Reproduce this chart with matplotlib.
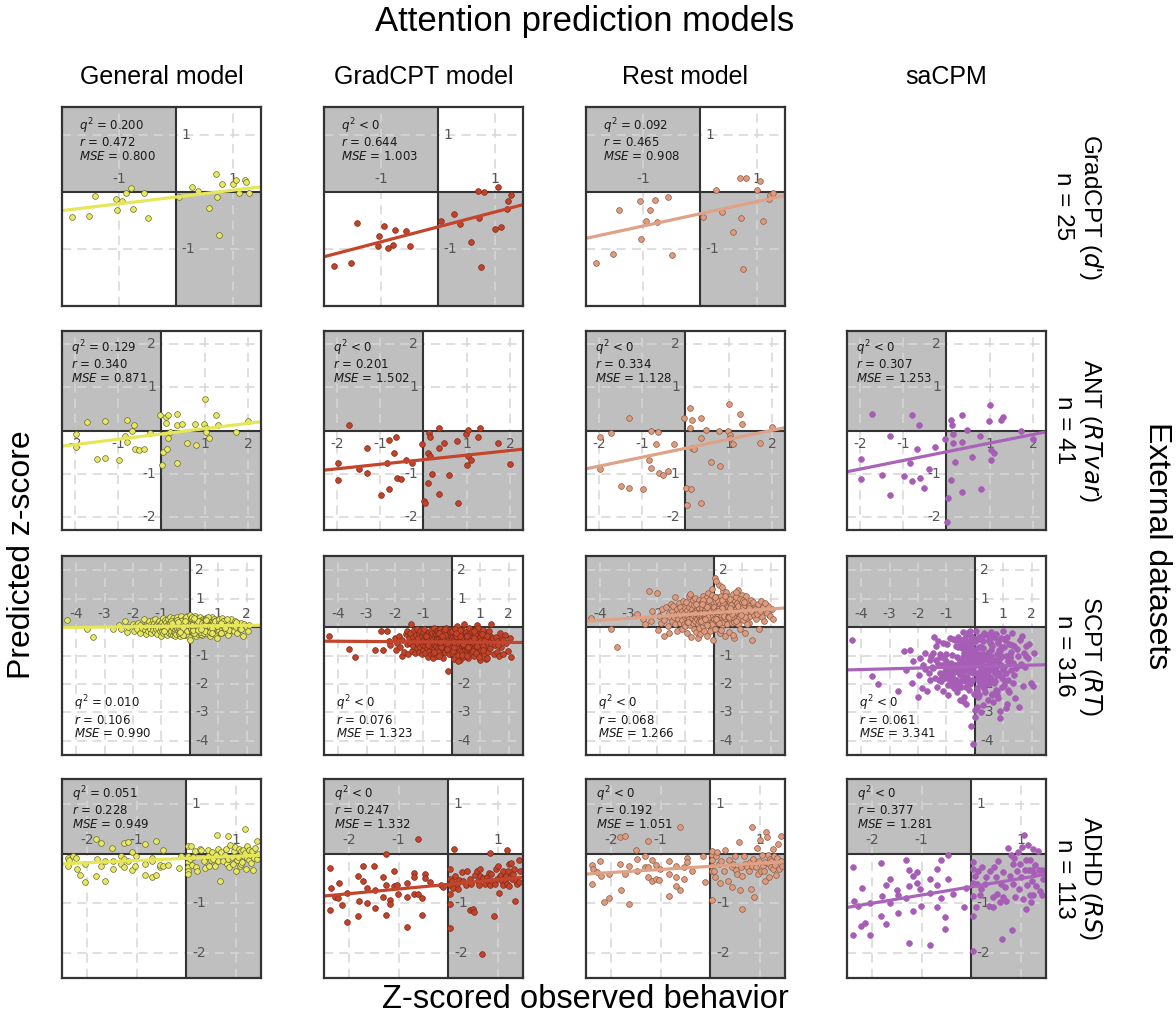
import numpy as np
import matplotlib.pyplot as plt

plt.rcParams['font.family'] = ['DejaVu Sans']

MODELS = ['General model', 'GradCPT model', 'Rest model', 'saCPM']
ROW_LABELS = ["GradCPT ($d$')\nn = 25", 'ANT ($RTvar$)\nn = 41',
              'SCPT ($RT$)\nn = 316', 'ADHD ($RS$)\nn = 113']
LIMITS = [(-2.0, 1.5), (-2.3, 2.3), (-4.5, 2.5), (-2.5, 1.5)]

# ---- GradCPT (d'), n = 25: observed z-score, then predicted z-score per model
GRADCPT_X = [-1.83, -1.52, -1.42, -1.05, -1.03, -0.95, -0.88, -0.78, -0.75, -0.55,
             -0.49, 0.05, 0.29, 0.40, 0.58, 0.71, 0.72, 0.76, 0.82, 1.01,
             1.06, 1.11, 1.22, 1.24, 1.29]
GRADCPT_GEN = [-0.44, -0.41, -0.06, -0.11, -0.31, -0.15, -0.01, 0.08, -0.29, -0.01,
               -0.46, -0.09, 0.09, 0.02, -0.28, 0.32, -0.09, -0.75, 0.14, 0.14,
               0.22, -0.02, 0.21, 0.18, -0.01]
GRADCPT_GRAD = [-1.29, -1.24, -0.54, -0.95, -0.77, -0.59, -0.98, -0.93, -0.67, -0.68,
                -0.94, -0.50, -0.38, -0.56, -0.87, 0.03, -0.46, -1.32, 0.01, -0.64,
                0.10, -0.61, -0.29, -0.15, -0.04]
GRADCPT_REST = [-1.25, -1.08, -0.32, -0.15, -0.83, -0.50, -0.32, -0.14, -0.52, -0.09,
                -1.11, -0.43, 0.04, -0.35, -0.69, 0.26, -0.46, -1.35, 0.25, 0.04,
                0.20, -0.51, -0.11, -0.05, -0.02]

# ---- ANT (RTvar), n = 41
ANT_X = [-1.98, -1.97, -1.72, -1.50, -1.31, -1.31, -0.99, -0.84, -0.80, -0.79,
         -0.69, -0.63, -0.61, -0.53, -0.40, -0.27, -0.03, 0.02, 0.03, 0.11,
         0.11, 0.12, 0.15, 0.16, 0.20, 0.36, 0.37, 0.37, 0.47, 0.60,
         0.77, 0.79, 0.99, 1.01, 1.02, 1.04, 1.10, 1.25, 1.31, 1.73, 2.00]
ANT_GEN = [-0.07, -0.39, 0.20, -0.66, 0.23, -0.63, -0.69, -0.13, -0.26, 0.25,
           -0.02, 0.12, -0.42, -0.46, -0.42, -0.05, 0.35, -0.80, -0.49, 0.18,
           0.32, -0.43, 0.35, -0.17, -0.03, 0.39, 0.12, -0.74, 0.16, -0.30,
           0.15, -0.34, 0.16, 0.72, 0.05, -0.03, -0.17, 0.35, 0.12, -0.04, 0.22]
ANT_GRAD = [-0.75, -1.15, 0.12, -0.90, -0.99, -0.40, -1.48, -0.75, -1.35, -0.22,
            -0.51, -0.15, -1.09, -1.12, -0.68, -0.76, -0.31, -1.63, -1.68, -0.52,
            -1.22, -0.05, -0.14, -0.60, -1.00, -1.47, 0.06, -0.40, -0.30, -1.02,
            -0.24, -1.68, -0.09, -0.80, 0.02, -0.58, -0.68, -0.15, 0.06, -0.30, -0.78]
ANT_REST = [-0.15, -0.89, -0.05, -1.29, 0.29, -1.34, -1.35, -0.68, -0.86, 0.00,
            -0.32, -0.04, -0.98, -1.04, -0.93, -0.32, 0.28, -1.32, -1.72, 0.05,
            0.51, -1.35, 0.25, -0.40, -0.43, 0.28, -0.18, -1.68, 0.02, -0.72,
            -0.02, -0.83, -0.02, 0.61, -0.10, -0.18, -0.32, 0.38, 0.16, -0.28, 0.07]
ANT_SA = [-0.67, -1.13, 0.37, -1.02, -0.12, -1.48, -1.05, -0.75, -1.17, 0.35,
          -0.42, 0.12, -1.09, -1.32, -0.90, -0.39, -0.19, -2.12, -1.55, -1.14,
          0.25, 0.13, -0.09, -0.29, -0.73, -1.42, 0.36, -0.27, 0.02, -0.62,
          -0.12, -1.35, 0.23, 0.60, -0.46, -0.69, -0.52, 0.25, 0.32, 0.00, -0.19]

# ---- SCPT (RT), n = 316 (dense cloud, values estimated)
SCPT_X = [-4.33, -3.62, -3.41, -2.69, -2.49, -2.44, -2.27, -2.22, -2.19, -2.01,
          -1.98, -1.93, -1.87, -1.81, -1.76, -1.74, -1.69, -1.63, -1.58, -1.57,
          -1.53, -1.51, -1.49, -1.46, -1.44, -1.41, -1.37, -1.36, -1.33, -1.31,
          -1.29, -1.27, -1.24, -1.22, -1.21, -1.19, -1.16, -1.14, -1.12, -1.11,
          -1.08, -1.06, -1.05, -1.03, -1.02, -1.00, -0.99, -0.97, -0.96, -0.95,
          -0.93, -0.92, -0.89, -0.88, -0.87, -0.85, -0.84, -0.82, -0.81, -0.79,
          -0.78, -0.77, -0.75, -0.74, -0.72, -0.71, -0.70, -0.69, -0.67, -0.66,
          -0.65, -0.64, -0.62, -0.61, -0.60, -0.59, -0.58, -0.57, -0.56, -0.55,
          -0.54, -0.53, -0.53, -0.52, -0.51, -0.51, -0.50, -0.83, -0.68, -0.91,
          -0.49, -0.48, -0.48, -0.46, -0.45, -0.43, -0.43, -0.41, -0.40, -0.38,
          -0.37, -0.37, -0.35, -0.34, -0.33, -0.31, -0.30, -0.30, -0.28, -0.27,
          -0.26, -0.25, -0.24, -0.22, -0.22, -0.21, -0.19, -0.18, -0.17, -0.16,
          -0.15, -0.14, -0.12, -0.12, -0.11, -0.09, -0.08, -0.07, -0.06, -0.05,
          -0.04, -0.03, -0.02, -0.01, -0.44, -0.36, -0.29, -0.20, -0.13, -0.06,
          -0.47, -0.39, -0.32, -0.25, -0.15, -0.10, -0.03, -0.42, -0.23, -0.08,
          0.01, 0.02, 0.03, 0.04, 0.05, 0.06, 0.08, 0.09, 0.10, 0.11,
          0.12, 0.13, 0.14, 0.15, 0.17, 0.18, 0.19, 0.20, 0.21, 0.22,
          0.23, 0.24, 0.26, 0.27, 0.28, 0.29, 0.30, 0.31, 0.33, 0.34,
          0.35, 0.36, 0.37, 0.38, 0.40, 0.41, 0.42, 0.43, 0.44, 0.46,
          0.47, 0.48, 0.49, 0.02, 0.07, 0.13, 0.16, 0.22, 0.25, 0.32,
          0.39, 0.45, 0.05, 0.11, 0.19, 0.28, 0.35, 0.42, 0.08, 0.30,
          0.50, 0.51, 0.53, 0.54, 0.55, 0.57, 0.58, 0.60, 0.61, 0.62,
          0.64, 0.65, 0.66, 0.68, 0.69, 0.71, 0.72, 0.73, 0.75, 0.76,
          0.78, 0.79, 0.80, 0.82, 0.83, 0.85, 0.86, 0.88, 0.89, 0.91,
          0.92, 0.94, 0.95, 0.97, 0.98, 0.52, 0.59, 0.67, 0.74, 0.81,
          0.87, 0.93, 0.56, 0.70, 0.84, 0.63, 0.77, 0.90, 0.99, 0.53,
          1.01, 1.03, 1.04, 1.06, 1.08, 1.10, 1.12, 1.13, 1.15, 1.17,
          1.19, 1.21, 1.23, 1.26, 1.28, 1.30, 1.33, 1.35, 1.38, 1.41,
          1.44, 1.47, 1.05, 1.11, 1.18, 1.24, 1.31, 1.39, 1.09, 1.22,
          1.52, 1.55, 1.58, 1.61, 1.65, 1.69, 1.72, 1.76, 1.81, 1.86,
          1.91, 1.97, 2.03, 2.08, 1.63, 1.79,
          -0.35, -0.18, 0.06, 0.27, 0.58, 0.79, -0.62, 0.15, 0.40, 0.96]
SCPT_GEN = [0.24, -0.08, -0.34, -0.08, 0.06, -0.05, 0.21, -0.18, 0.02, 0.10,
            -0.12, 0.04, -0.06, 0.15, -0.20, 0.08, -0.02, 0.27, -0.10, 0.05,
            -0.25, 0.12, 0.08, -0.15, 0.20, -0.05, 0.12, -0.22, 0.03, 0.25,
            -0.10, 0.15, -0.18, 0.05, 0.30, -0.08, 0.10, -0.25, 0.18, -0.02,
            0.22, -0.12, 0.07, -0.30, 0.14, -0.04, 0.19, -0.14, 0.33, 0.01,
            -0.21, 0.11, -0.06, 0.26, -0.16, 0.04, 0.17, -0.28, 0.09, -0.03,
            0.28, -0.11, 0.13, -0.19, 0.02, 0.35, -0.07, 0.16, -0.24, 0.06,
            -0.13, 0.21, 0.00, -0.29, 0.12, -0.04, 0.31, -0.17, 0.08, 0.18,
            -0.09, 0.25, -0.22, 0.03, 0.14, -0.31, 0.10, -0.02, 0.23, -0.15,
            0.05, -0.26, 0.19, -0.08, 0.34, -0.12, 0.07, 0.22, -0.20, 0.01,
            0.16, -0.05, -0.33, 0.27, 0.09, -0.18, 0.13, 0.38, -0.09, 0.04,
            -0.23, 0.20, 0.06, -0.14, 0.29, -0.01, 0.11, -0.27, 0.17, 0.03,
            0.32, -0.10, 0.08, -0.21, 0.15, 0.40, -0.06, 0.12, -0.16, 0.24,
            -0.03, 0.19, -0.36, 0.07, 0.26, -0.11, 0.02, 0.14, -0.24, 0.30,
            0.10, -0.19, 0.23, -0.04, 0.36, -0.13, 0.05, 0.18, -0.28, 0.09,
            -0.45, 0.21, -0.07, 0.13, 0.28, -0.15, 0.06, 0.33, -0.09, 0.17,
            -0.22, 0.04, 0.25, -0.12, 0.11, 0.38, -0.05, 0.19, -0.30, 0.08,
            0.27, -0.16, 0.14, 0.02, -0.25, 0.31, 0.09, -0.08, 0.22, -0.01,
            0.16, -0.20, 0.35, 0.05, -0.11, 0.24, 0.12, -0.27, 0.07, 0.29,
            -0.04, 0.18, -0.14, 0.41, 0.03, -0.19, 0.26, 0.10, -0.07, 0.20,
            -0.23, 0.13, 0.32, -0.10, 0.06, 0.23, -0.16, 0.15, 0.37, -0.02,
            0.11, -0.21, 0.27, 0.04, -0.12, 0.19, 0.33, -0.06, 0.14, -0.26,
            0.22, 0.08, -0.15, 0.30, -0.03, 0.17, -0.31, 0.12, 0.25, -0.09,
            0.05, 0.35, -0.18, 0.14, -0.05, 0.28, 0.09, -0.23, 0.20, 0.02,
            -0.11, 0.16, -0.39, 0.26, 0.07, -0.14, 0.31, 0.04, -0.20, 0.18,
            0.10, -0.07, 0.24, -0.16, 0.13, 0.36, -0.02, 0.21, -0.12, 0.06,
            0.19, -0.10, 0.28, 0.03, -0.22, 0.15, -0.05, 0.32, 0.08, -0.17,
            0.23, 0.01, -0.13, 0.26, 0.11, -0.06, 0.18, -0.27, 0.14, 0.05,
            0.30, -0.09, 0.12, -0.19, 0.21, 0.04, 0.27, -0.11, 0.16, -0.03,
            0.09, -0.14, 0.20, 0.02, -0.21, 0.15, 0.06, -0.08, 0.13, -0.30,
            0.11, 0.04, -0.12, 0.07, 0.18, -0.05,
            -0.16, 0.22, 0.09, -0.10, 0.26, -0.19, 0.14, 0.31, -0.07, 0.03]
SCPT_GRAD = [-0.33, -0.78, -1.06, -0.81, -0.12, -0.81, -0.12, -0.49, -0.62, -0.38,
             -0.81, -0.55, -0.30, -0.70, -1.02, -0.45, -0.88, -0.25, -0.14, -0.60,
             -0.95, -0.40, -0.20, -0.55, 0.12, -0.85, -0.35, -0.68, -0.10, -0.92,
             -0.48, -0.28, -0.75, -0.05, -0.60, -0.40, -0.88, -0.22, -0.70, -0.15,
             -0.52, -0.95, -0.33, -0.62, -0.18, -0.80, -0.44, -0.07, -0.66, -0.31,
             -0.90, -0.52, -0.24, -0.73, -0.39, -1.05, -0.58, -0.16, -0.47, -0.83,
             -0.29, -0.65, -0.09, -0.51, -0.96, -0.36, -0.71, -0.20, -0.56, -1.10,
             -0.42, -0.03, -0.77, -0.34, -0.61, -0.19, -0.87, -0.46, -0.26, -0.68,
             -1.00, -0.37, -0.54, -0.13, -0.79, -0.43, -0.23, -0.64, -0.91, -0.32,
             -0.50, -0.11, -0.74, -0.40, -0.85, -0.27, -0.59, -0.06, -0.45, -0.97,
             -0.35, -0.69, -0.18, -0.53, -1.08, -0.41, -0.25, -0.76, -0.48, -0.14,
             -0.63, -0.30, -0.89, -0.44, -0.02, -0.57, -0.36, -0.82, -0.21, -0.67,
             -0.47, -1.53, -0.31, -0.72, -0.10, -0.55, -0.93, -0.38, -0.60, -0.17,
             -0.79, -0.42, -0.26, -0.65, -1.02, -0.49, -0.12, -0.58, -0.34, -0.86,
             -0.22, -0.70, -0.45, -0.08, -0.61, -0.95, -0.37, -0.53, -0.28, -0.75,
             -0.40, -0.90, -0.15, -0.62, -0.33, -1.12, -0.48, -0.05, -0.72, -0.29,
             -0.56, -0.19, -0.83, -0.44, -0.66, 0.05, -0.38, -0.97, -0.51, -0.24,
             -0.74, -0.35, -0.58, -1.15, -0.12, -0.47, -0.81, -0.30, -0.63, -0.09,
             -0.42, -0.88, -0.21, -0.55, -1.05, -0.36, -0.68, 0.10, -0.49, -0.77,
             -0.27, -0.60, -0.93, -0.14, -0.45, -0.71, -0.32, -1.20, -0.52, -0.18,
             -0.64, -0.39, -0.85, -0.07, -0.57, -0.26, -0.99, -0.43, -0.70, -0.31,
             -0.50, -0.16, -0.78, -0.37, -1.10, -0.59, -0.23, -0.67, -0.04, -0.46,
             -0.82, -0.33, -0.61, -0.20, -0.92, -0.48, -0.13, -0.73, -0.40, -1.03,
             -0.28, -0.56, -0.87, -0.11, -0.44, -0.69, -0.35, 0.08, -0.62, -0.95,
             -0.41, -0.76, -0.19, -0.53, -1.17, -0.30, -0.65, -0.47, -0.84, -0.25,
             -0.58, -0.02, -0.72, -0.38, -0.90, -0.49, -0.15, -0.66, -0.34, -1.00,
             -0.45, -0.80, -0.22, -0.60, -0.10, -0.52, -0.94, -0.36, -0.70, -0.27,
             -1.12, -0.43, -0.63, -0.17, -0.86, -0.50, -0.32, -0.75, 0.12, -0.57,
             -0.39, -0.96, -0.24, -0.68, -0.46, -1.07, -0.13, -0.55, -0.81, -0.30,
             -0.62, -0.35, -0.88, -0.48, -1.02, -0.20, -0.71, -0.43, -0.93, -0.28,
             -0.55, -0.83, -0.37, -1.05, -0.64, -0.46,
             -0.33, -0.77, -0.51, -0.09, -0.69, -0.40, -0.87, -0.21, -0.58, -1.04]
SCPT_REST = [0.33, -0.05, -0.69, 0.45, 0.30, 0.10, 1.27, 0.20, 0.55, 1.21,
             -0.10, 0.40, 0.15, 0.62, -0.30, 0.25, 0.70, 0.05, 0.48, -0.20,
             0.35, 0.80, 0.55, 0.20, 0.75, 0.35, 1.05, 0.10, 0.45, 0.62,
             -0.15, 0.30, 0.85, 0.48, 0.15, 0.70, 0.40, -0.05, 0.58, 0.25,
             0.92, 0.12, 0.50, 0.35, 0.68, 0.05, 0.42, 0.88, 0.18, 0.60,
             -0.22, 0.38, 0.72, 0.27, 1.10, 0.52, 0.08, 0.45, 0.83, -0.35,
             0.32, 0.65, 0.14, 0.97, 0.50, -0.08, 0.40, 0.77, 0.23, 0.58,
             1.02, 0.36, -0.18, 0.62, 0.29, 0.85, 0.46, 0.11, 0.70, -0.40,
             0.53, 0.21, 0.95, 0.38, -0.02, 0.66, 0.30, 1.15, 0.48, 0.17,
             0.80, 0.43, -0.26, 0.58, 0.25, 0.90, 0.35, 0.68, 0.04, 0.52,
             0.28, 1.08, 0.47, -0.12, 0.73, 0.39, 0.60, 0.15, 0.95, 0.33,
             0.55, -0.30, 0.82, 0.44, 0.20, 1.20, 0.63, 0.09, 0.50, 0.37,
             0.74, 0.26, 0.58, -0.08, 0.92, 0.45, 0.31, 1.35, 0.18, 0.66,
             0.40, 0.87, -0.44, 0.54, 0.22, 0.78, 1.02, 0.34, 0.60, 0.12,
             0.49, 0.95, 0.27, 0.70, -0.15, 0.56, 0.38, 0.83, 0.06, 1.12,
             0.62, 0.30, 1.74, 0.45, -0.05, 0.88, 0.52, 0.20, 1.05, 0.36,
             0.71, 0.14, 0.58, 0.93, 0.40, 1.47, 0.25, 0.66, -0.22, 0.81,
             0.47, 1.10, 0.33, 0.62, 0.08, 0.76, 0.51, 1.28, 0.19, 0.57,
             0.90, 0.35, 0.68, -0.30, 0.44, 1.15, 0.60, 0.27, 0.82, 0.12,
             0.53, 0.98, 0.38, 0.72, 1.62, 0.21, 0.64, 0.46, -0.10, 0.86,
             0.31, 0.75, 1.06, 0.49, 0.16, 0.68, 0.40, 1.25, 0.57, 0.94,
             0.36, 0.70, -0.18, 0.52, 0.88, 0.28, 1.00, 0.45, 0.63, 0.15,
             0.79, 0.41, 1.18, 0.58, -0.40, 0.74, 0.33, 0.92, 0.50, 0.22,
             0.65, 1.05, 0.38, 0.80, 0.12, 0.56, 1.30, 0.44, 0.71, -0.05,
             0.48, 0.90, 0.27, 0.62, 1.12, 0.35, 0.77, -0.28, 0.53, 0.85,
             0.40, 1.00, 0.60, 0.18, 0.73, 0.46, 1.22, 0.31, 0.88, 0.55,
             0.69, 0.26, 0.94, 0.50, -0.20, 0.78, 0.42, 1.08, 0.60, 0.33,
             0.85, 0.52, 0.15, 0.70, 0.38, 0.96, 0.58, -0.45, 0.80, 0.44,
             0.62, 0.30, 0.90, 0.48, 0.10, 0.74, 0.55, 0.88, 0.36, 0.66,
             0.45, 0.80, -0.05, 0.60, 0.92, 0.35, 0.70, 0.20, 0.58, 0.48,
             0.75, 0.40, 0.62, 0.28, 0.55, 0.85,
             0.50, 0.95, 0.30, 1.40, 0.68, 0.22, 0.83, 0.58, 1.10, 0.42]
SCPT_SA = [-0.47, -1.71, -2.01, -2.26, -0.85, -1.50, -0.81, -1.95, -1.20, -2.45,
           -1.70, -1.10, -2.15, -1.35, -1.48, -0.92, -2.26, -1.60, -1.15, -1.85,
           -1.00, -1.40, -0.90, -1.45, -0.35, -1.80, -0.65, -1.15, -2.10, -0.48,
           -1.30, -1.85, -1.62, -0.95, -1.05, -1.90, -1.72, -1.35, -0.55, -2.25,
           -1.10, -1.80, -1.55, -1.40, -1.20, -0.95, -1.68, -0.60, -2.02, -2.40,
           -1.60, -1.38, -1.88, -1.75, -0.40, -1.25, -2.02, -1.74, -1.48, -0.98,
           -1.60, -0.42, -2.12, -2.15, -1.53, -1.33, -0.45, -1.85, -1.86, -0.66,
           -1.42, -2.30, -1.92, -0.36, -1.58, -2.15, -0.70, -1.95, -1.28, -1.50,
           -2.55, -1.60, -0.62, -1.70, -1.22, -0.48, -1.88, -1.95, -1.45, -1.60,
           -1.18, -0.45, -2.10, -1.35, -0.75, -1.62, -0.18, -1.05, -2.45, -0.90,
           -1.52, -0.60, -1.25, -1.90, -0.38, -1.10, -2.70, -0.85, -1.40, -0.22,
           -1.75, -1.00, -0.55, -2.20, -1.30, -0.68, -1.58, -0.12, -1.15, -2.00,
           -0.88, -1.45, -3.47, -0.72, -1.20, -1.85, -0.40, -4.10, -1.05, -1.60,
           -0.95, -2.35, -1.30, -0.50, -1.72, -1.10, -0.25, -1.92, -0.80, -1.42,
           -1.65, -0.65, -2.10, -1.25, -0.30, -1.50, -0.92, -2.60, -1.08, -0.55,
           -1.35, -2.90, -0.78, -1.60, -0.15, -1.18, -2.25, -0.98, -1.80, -0.42,
           -1.05, -1.70, -1.60, -2.40, -1.28, -0.35, -1.95, -1.85, -1.48, -3.00,
           -0.70, -1.22, -2.05, -0.48, -1.55, -0.95, -2.75, -1.12, -0.20, -1.82,
           -1.40, -1.62, -2.30, -1.00, -1.82, -1.68, -0.28, -1.95, -1.15, -2.55,
           -0.90, -1.50, -0.45, -3.15, -1.25, -0.70, -1.88, -1.05, -0.32, -2.15,
           -1.60, -1.58, -1.20, -2.45, -0.95, -1.75, -1.40, -1.38, -2.80, -0.75,
           -1.10, -2.00, -0.52, -1.45, -0.18, -1.85, -1.02, -2.35, -0.68, -1.30,
           -2.65, -1.85, -1.55, -0.35, -1.95, -1.15, -1.62, -2.20, -1.40, -0.25,
           -1.70, -0.95, -2.50, -1.20, -0.48, -1.62, -0.80, -2.95, -1.08, -0.40,
           -1.35, -2.10, -1.72, -1.80, -0.15, -1.25, -2.40, -1.90, -1.55, -0.55,
           -3.18, -1.02, -0.60, -1.90, -1.30, -0.30, -2.25, -0.85, -1.48, -1.75,
           -0.70, -1.40, -2.05, -0.45, -1.60, -1.00, -2.70, -0.35, -1.20, -1.85,
           -0.58, -2.30, -1.10, -0.88, -1.52, -0.20, -1.95, -1.28, -0.65, -2.50,
           -1.45, -0.78, -1.90, -0.40, -2.20, -1.05, -0.62, -1.70, -2.85, -0.95,
           -1.00, -2.82, -0.45, -1.35, -0.30, -2.06, -0.90, -1.40, -0.65, -1.10,
           -0.60, -1.95, -2.06, -0.90, -1.30, -1.00,
           -1.25, -0.48, -2.15, -1.60, -0.82, -2.40, -1.05, -0.35, -1.88, -0.70]

# ---- ADHD (RS), n = 113
ADHD_X = [-2.38, -2.37, -2.36, -2.28, -2.21, -2.20, -2.13, -2.04, -2.04, -1.81,
          -1.81, -1.79, -1.72, -1.72, -1.64, -1.64, -1.49, -1.47, -1.47, -1.32,
          -1.32, -1.26, -1.25, -1.25, -1.17, -1.17, -1.10, -1.10, -1.03, -1.01,
          -0.84, -0.84, -0.83, -0.69, -0.69, -0.69, -0.61, -0.61, -0.53, -0.52,
          -0.46, -0.46, -0.37, -0.14, -0.10,
          0.03, 0.03, 0.03, 0.03, 0.03, 0.03, 0.08, 0.10, 0.12, 0.14,
          0.17, 0.20, 0.22, 0.28, 0.30, 0.35, 0.37, 0.43, 0.44, 0.46,
          0.49, 0.52, 0.53, 0.57, 0.59, 0.61, 0.64, 0.64, 0.68, 0.70,
          0.74, 0.77, 0.80, 0.81, 0.84, 0.84, 0.86, 0.88, 0.91, 0.93,
          0.96, 0.98, 1.00, 1.01, 1.03, 1.05, 1.07, 1.09, 1.09, 1.12,
          1.14, 1.15, 1.18, 1.18, 1.20, 1.22, 1.22, 1.25, 1.25, 1.27,
          1.29, 1.31, 1.34, 1.36, 1.38, 1.42, 1.43, 1.45]
ADHD_GEN = [-0.08, -0.24, -0.12, -0.05, -0.09, -0.30, -0.42, -0.56, -0.20, -0.45,
            0.29, -0.10, 0.22, -0.24, -0.54, -0.15, 0.11, -0.14, -0.30, -0.05,
            -0.20, 0.22, -0.27, -0.10, -0.15, 0.24, 0.03, -0.32, -0.24, -0.05,
            -0.42, -0.20, 0.20, -0.08, -0.14, -0.47, 0.26, -0.43, -0.27, -0.22,
            0.07, -0.25, -0.22, -0.28, -0.05,
            -0.17, -0.27, -0.34, 0.16, -0.05, -0.40, -0.10, 0.16, -0.22, -0.07,
            0.05, -0.27, -0.34, 0.10, 0.07, -0.14, -0.29, 0.07, -0.05, -0.24,
            -0.12, 0.03, -0.10, -0.24, -0.02, 0.37, -0.14, 0.10, -0.54, 0.03,
            -0.15, -0.03, 0.10, -0.20, 0.36, -0.10, -0.27, 0.17, -0.07, -0.20,
            0.05, 0.14, -0.34, -0.12, -0.07, 0.10, -0.25, 0.05, -0.20, -0.17,
            0.08, -0.05, 0.49, 0.01, -0.30, -0.08, 0.15, 0.07, -0.12, -0.02,
            -0.18, 0.05, -0.32, -0.08, 0.12, 0.25, -0.10, 0.00]
ADHD_GRAD = [-0.29, -1.14, -0.70, -0.88, -0.89, -0.60, -1.03, -1.37, -0.80, -0.44,
             -1.26, -0.95, -0.25, -0.55, -0.99, -0.70, -0.25, -0.74, -1.10, -0.46,
             -0.88, -0.01, -1.24, -0.64, -0.93, -1.01, -0.34, -0.66, -0.64, -0.81,
             -1.47, -0.60, -0.88, -0.39, -0.47, -0.81, 0.29, -0.81, -0.90, -1.24,
             -0.41, -0.49, -0.57, -0.64, -0.68,
             -1.49, -1.01, -0.81, -0.64, -0.51, -0.30, -0.54, -0.70, 0.09, -0.44,
             -0.61, -0.71, -0.53, -0.37, -0.54, -0.64, -0.34, -1.14, -0.51, -0.61,
             -1.11, -1.18, -0.42, -0.34, -0.54, -0.64, -0.44, -0.30, -2.01, -0.49,
             -0.61, -0.46, -0.54, -0.39, 0.01, -0.64, -0.40, -0.55, -1.25, -0.61,
             -0.30, -0.50, -0.24, -0.80, -0.45, -0.42, -0.54, -0.64, -0.35, -0.48,
             -0.53, -0.44, 0.07, -0.61, -0.34, -0.66, -0.20, -0.19, -0.45, -0.51,
             -0.40, -0.30, -0.95, -0.55, -0.62, -0.12, -0.57, -0.35]
ADHD_REST = [-0.22, -0.62, -0.30, -0.37, -0.15, -0.45, -0.98, -0.90, -0.40, 0.34,
             -0.20, -0.74, 0.36, -0.41, -1.01, -0.25, 0.07, -0.34, -0.10, -0.27,
             -0.05, 0.25, -0.27, -0.47, -0.54, -0.12, -0.22, -0.51, -0.53, -0.30,
             -0.14, -0.86, -0.40, -0.24, -0.46, -0.66, -0.74, 0.54, -0.27, -0.51,
             -0.08, -0.17, -0.34, -0.05, -0.57,
             -0.93, -0.03, -0.24, -0.34, 0.05, -0.12, -0.34, -0.47, -0.05, 0.03,
             -0.20, -0.60, -0.15, -0.34, 0.07, -0.54, -0.12, -0.27, -0.68, -0.20,
             -0.05, -0.32, -0.40, 0.24, -0.73, -0.27, -1.11, -0.44, -0.05, -0.20,
             -0.27, -0.34, -0.17, -0.71, 0.54, -0.24, -0.10, -0.88, -0.27, 0.12,
             -0.40, -0.15, 0.27, -0.34, -0.03, -0.24, -0.34, -0.17, -0.55, 0.44,
             0.34, -0.03, -0.20, -0.47, -0.10, -0.27, -0.14, 0.10, -0.30, -0.05,
             -0.22, -0.42, -0.08, 0.20, -0.30, 0.35, -0.15, -0.25]
ADHD_SA = [-0.27, -1.64, -0.95, -1.05, -1.46, -0.70, -1.39, -1.64, -1.00, -0.19,
           -1.26, -0.85, -0.64, -1.41, -0.99, -0.50, -0.74, -0.84, -1.20, -0.12,
           -0.90, -0.32, -0.66, -1.80, -1.15, -0.45, -0.37, -0.59, -0.72, -1.05,
           -1.84, -0.80, -0.50, -0.63, -1.07, -0.30, -0.12, -0.90, -1.28, -1.52,
           -0.03, -0.51, -0.81, -1.08, -0.70,
           -1.96, -0.17, -0.60, -1.25, -0.30, -0.85, -0.44, -1.08, -0.61, -0.34,
           -0.84, -0.71, -0.26, -0.61, -0.47, -1.05, -0.34, -0.88, -1.08, -0.27,
           -0.47, -0.81, -0.15, -0.98, -0.61, -1.72, -0.88, -0.37, -0.68, -0.95,
           0.12, -0.44, -0.03, -1.54, -0.20, -0.61, -0.08, -0.88, -0.34, 0.03,
           -0.71, -0.20, -0.47, 0.14, -0.91, 0.37, -0.32, -1.11, -0.12, -0.64,
           0.17, -0.32, -0.84, -0.12, -0.98, -0.32, -0.55, -0.84, 0.10, -0.40,
           -0.22, -0.65, 0.05, -0.32, -0.75, -0.84, -0.32, -0.50]

DATA = [
    [(GRADCPT_X, GRADCPT_GEN), (GRADCPT_X, GRADCPT_GRAD), (GRADCPT_X, GRADCPT_REST), None],
    [(ANT_X, ANT_GEN), (ANT_X, ANT_GRAD), (ANT_X, ANT_REST), (ANT_X, ANT_SA)],
    [(SCPT_X, SCPT_GEN), (SCPT_X, SCPT_GRAD), (SCPT_X, SCPT_REST), (SCPT_X, SCPT_SA)],
    [(ADHD_X, ADHD_GEN), (ADHD_X, ADHD_GRAD), (ADHD_X, ADHD_REST), (ADHD_X, ADHD_SA)],
]

# q^2, r, MSE printed in each panel
STATS = [
    [('= 0.200', '0.472', '0.800'), ('< 0', '0.644', '1.003'), ('= 0.092', '0.465', '0.908'), None],
    [('= 0.129', '0.340', '0.871'), ('< 0', '0.201', '1.502'), ('< 0', '0.334', '1.128'), ('< 0', '0.307', '1.253')],
    [('= 0.010', '0.106', '0.990'), ('< 0', '0.076', '1.323'), ('< 0', '0.068', '1.266'), ('< 0', '0.061', '3.341')],
    [('= 0.051', '0.228', '0.949'), ('< 0', '0.247', '1.332'), ('< 0', '0.192', '1.051'), ('< 0', '0.377', '1.281')],
]

PT_COLORS = ['#e8e862', '#c2432a', '#dd9c80', '#a65db6']
EDGE_COLORS = ['#6a6a30', '#7d2a18', '#8c5b45', '#a65db6']
LINE_COLORS = ['#e6e65a', '#c4452c', '#dea286', '#a964b9']
SHADE = '#c0bfc0'
GRID = '#d6d6d6'
AXIS = '#333333'
TICK_TXT = '#555555'

COL_LEFT = [0.0527, 0.2755, 0.4983, 0.7202]
ROW_BOTTOM = [0.7003, 0.4809, 0.2605, 0.0421]
AX_W, AX_H = 0.1692, 0.1949
# stats text anchor (axes fraction) and where tick labels sit, per row
STAT_POS = [(0.085, 0.955, 'top'), (0.045, 0.965, 'top'), (0.06, 0.075, 'bottom'), (0.05, 0.975, 'top')]
LABELS_BELOW_LEFT = [False, True, False, False]

OUTER = ['Liberation Sans', 'DejaVu Sans']

fig = plt.figure(figsize=(11.76, 10.21), dpi=100)

for i in range(4):
    lo, hi = LIMITS[i]
    ticks = [t for t in range(int(np.ceil(lo + 0.1)), int(np.floor(hi - 0.1)) + 1) if t != 0]
    for j in range(4):
        if DATA[i][j] is None:
            continue
        x, y = np.array(DATA[i][j][0]), np.array(DATA[i][j][1])
        ax = fig.add_axes([COL_LEFT[j], ROW_BOTTOM[i], AX_W, AX_H])
        ax.set_xlim(lo, hi)
        ax.set_ylim(lo, hi)
        ax.fill_between([lo, 0], 0, hi, color=SHADE, lw=0, zorder=0)
        ax.fill_between([0, hi], lo, 0, color=SHADE, lw=0, zorder=0)
        for t in ticks:
            ax.axvline(t, color=GRID, lw=1.1, ls=(0, (6, 4)), zorder=1)
            ax.axhline(t, color=GRID, lw=1.1, ls=(0, (6, 4)), zorder=1)
        ax.axhline(0, color=AXIS, lw=1.5, zorder=2)
        ax.axvline(0, color=AXIS, lw=1.5, zorder=2)

        flip = LABELS_BELOW_LEFT[i]
        for t in ticks:
            ax.annotate(str(t), (t, 0), xytext=(0, -9.5 if flip else 9.5),
                        textcoords='offset points', ha='center', va='center',
                        fontsize=10, color=TICK_TXT, zorder=3)
            ax.annotate(str(t), (0, t), xytext=(-4 if flip else 4, 0),
                        textcoords='offset points', ha='right' if flip else 'left',
                        va='center', fontsize=10, color=TICK_TXT, zorder=3)

        ax.scatter(x, y, s=17, c=PT_COLORS[j], edgecolors=EDGE_COLORS[j],
                   linewidths=0.5, zorder=4)
        slope, icpt = np.polyfit(x, y, 1)
        xs = np.array([lo, hi])
        ax.plot(xs, icpt + slope * xs, color=LINE_COLORS[j], lw=2.3, zorder=5)

        q2, r, mse = STATS[i][j]
        sx, sy, va = STAT_POS[i]
        ax.text(sx, sy, '$q^2$ ' + q2 + '\n$r$ = ' + r + '\n$MSE$ = ' + mse,
                transform=ax.transAxes, ha='left', va=va, fontsize=8.5,
                linespacing=1.05, color='#1a1a1a', zorder=6)

        ax.set_xticks([])
        ax.set_yticks([])
        for sp in ax.spines.values():
            sp.set_linewidth(1.6)
            sp.set_color(AXIS)
            sp.set_zorder(7)

    fig.text(0.917, ROW_BOTTOM[i] + AX_H / 2, ROW_LABELS[i], rotation=270,
             ha='center', va='center', fontsize=17.5, family=OUTER,
             linespacing=1.15, multialignment='center')

for j, name in enumerate(MODELS):
    fig.text(COL_LEFT[j] + AX_W / 2, 0.9246, name, ha='center', va='center',
             fontsize=18, family=OUTER)

fig.text(0.497, 0.979, 'Attention prediction models', ha='center', va='center',
         fontsize=25, family=OUTER)
fig.text(0.498, 0.021, 'Z-scored observed behavior', ha='center', va='center',
         fontsize=23.5, family=OUTER)
fig.text(0.019, 0.457, 'Predicted z-score', rotation=90, ha='center', va='center',
         fontsize=23, family=OUTER)
fig.text(0.984, 0.466, 'External datasets', rotation=270, ha='center', va='center',
         fontsize=23, family=OUTER)

fig.savefig('out.png', dpi=100, facecolor='white')
